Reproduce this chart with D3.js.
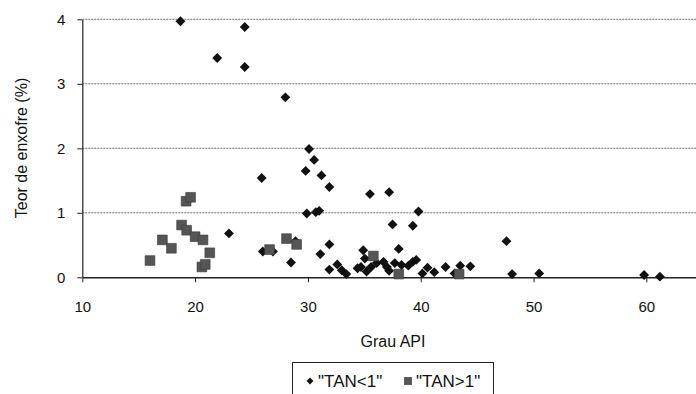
<!DOCTYPE html>
<html>
<head>
<meta charset="utf-8">
<script src="https://cdn.jsdelivr.net/npm/d3@7"></script>
<style>
  body { margin: 0; background: #fff; }
  text { font-family: "Liberation Sans", Arial, sans-serif; fill: #111; }
</style>
</head>
<body>
<div id="chart"></div>
<script>
// "TAN<1" series (diamonds)
var apiLess = [18.7, 21.96, 23.0, 24.4, 24.4, 28.0, 30.1, 30.55, 29.8, 31.2, 31.9, 25.9, 35.5, 37.2,
  29.9, 30.7, 31.0, 39.8, 37.5, 39.3, 26.0, 26.9, 28.5, 28.9, 31.1, 31.9, 31.9, 32.6, 33.0, 33.4,
  34.9, 35.05, 34.7, 34.4, 35.2, 35.6, 36.1, 36.7, 37.0, 37.2, 38.05, 37.7, 38.3, 38.9, 39.3, 39.6,
  40.15, 40.6, 41.2, 42.2, 43.0, 43.5, 44.4, 47.6, 48.1, 50.5, 59.8, 61.2];
var sulfurLess = [3.97, 3.40, 0.68, 3.88, 3.26, 2.79, 1.99, 1.82, 1.65, 1.58, 1.40, 1.54, 1.29, 1.32,
  0.99, 1.01, 1.03, 1.02, 0.82, 0.80, 0.40, 0.40, 0.23, 0.56, 0.36, 0.51, 0.12, 0.20, 0.11, 0.05,
  0.42, 0.29, 0.16, 0.14, 0.09, 0.16, 0.22, 0.24, 0.16, 0.10, 0.44, 0.22, 0.19, 0.18, 0.24, 0.27,
  0.06, 0.15, 0.08, 0.16, 0.06, 0.18, 0.17, 0.56, 0.05, 0.06, 0.035, 0.01];

// "TAN>1" series (squares)
var apiMore = [19.2, 19.6, 18.8, 19.25, 20.0, 20.7, 21.3, 20.6, 20.9, 17.1, 17.9, 16.0, 26.6, 28.1, 29.0, 35.8, 38.05, 43.4];
var sulfurMore = [1.18, 1.24, 0.81, 0.73, 0.63, 0.58, 0.38, 0.16, 0.20, 0.58, 0.45, 0.26, 0.43, 0.60, 0.51, 0.33, 0.05, 0.05];

var xTicks = [10, 20, 30, 40, 50, 60];
var yTicks = [0, 1, 2, 3, 4];
var seriesNames = ['"TAN<1"', '"TAN>1"'];

var width = 696, height = 394;

var svg = d3.select("#chart")
  .append("svg")
  .attr("width", width)
  .attr("height", height);

var x = d3.scaleLinear()
  .domain([10, 64.4])
  .range([82.3, 696]);

var y = d3.scaleLinear()
  .domain([0, 4])
  .range([277.3, 19.3]);

// gridlines
svg.append("g")
  .selectAll("line")
  .data(yTicks.filter(function (d) { return d > 0; }))
  .enter()
  .append("line")
  .attr("x1", x(10))
  .attr("x2", width)
  .attr("y1", function (d) { return y(d); })
  .attr("y2", function (d) { return y(d); })
  .attr("stroke", "#6e6e6e")
  .attr("stroke-width", 1)
  .attr("stroke-dasharray", "2,1");

// Y axis
var yAxis = svg.append("g")
  .attr("transform", "translate(" + x(10) + ",0)")
  .call(d3.axisLeft(y).tickValues(yTicks).tickFormat(d3.format("d")).tickSize(5).tickPadding(12).tickSizeOuter(0));
yAxis.select(".domain").attr("stroke", "#222").attr("stroke-width", 1.2);
yAxis.selectAll(".tick line").attr("stroke", "#222");
yAxis.selectAll("text").style("font-size", "15px");

// X axis
var xAxis = svg.append("g")
  .attr("transform", "translate(0," + y(0) + ")")
  .call(d3.axisBottom(x).tickValues(xTicks).tickFormat(d3.format("d")).tickSize(5).tickPadding(19).tickSizeOuter(0));
xAxis.select(".domain").attr("stroke", "#222").attr("stroke-width", 1.6);
xAxis.selectAll(".tick line").attr("stroke", "#222");
xAxis.selectAll("text").style("font-size", "15px");

// axis titles
svg.append("text")
  .attr("transform", "translate(27,148) rotate(-90)")
  .attr("text-anchor", "middle")
  .style("font-size", "16px")
  .text("Teor de enxofre (%)");

svg.append("text")
  .attr("x", 393)
  .attr("y", 347)
  .attr("text-anchor", "middle")
  .style("font-size", "16px")
  .text("Grau API");

var diamond = d3.symbol().type(d3.symbolDiamond2).size(62);
var square = d3.symbol().type(d3.symbolSquare).size(95);

// diamonds
svg.append("g")
  .selectAll("path")
  .data(d3.range(apiLess.length))
  .enter()
  .append("path")
  .attr("d", diamond)
  .attr("transform", function (i) { return "translate(" + x(apiLess[i]) + "," + y(sulfurLess[i]) + ")"; })
  .style("fill", "#111");

// squares
svg.append("g")
  .selectAll("path")
  .data(d3.range(apiMore.length))
  .enter()
  .append("path")
  .attr("d", square)
  .attr("transform", function (i) { return "translate(" + x(apiMore[i]) + "," + y(sulfurMore[i]) + ")"; })
  .style("fill", "#555")
  .style("stroke", "#3a3a3a")
  .style("stroke-width", 0.6);

// legend
var legend = svg.append("g");
legend.append("rect")
  .attr("x", 292.5)
  .attr("y", 362.5)
  .attr("width", 201)
  .attr("height", 40)
  .attr("fill", "none")
  .attr("stroke", "#222")
  .attr("stroke-width", 1);

legend.append("path")
  .attr("d", d3.symbol().type(d3.symbolDiamond2).size(30))
  .attr("transform", "translate(310,381)")
  .style("fill", "#111");
legend.append("text")
  .attr("x", 318)
  .attr("y", 387)
  .style("font-size", "17px")
  .text(seriesNames[0]);

legend.append("path")
  .attr("d", d3.symbol().type(d3.symbolSquare).size(62))
  .attr("transform", "translate(408,381)")
  .style("fill", "#555");
legend.append("text")
  .attr("x", 416)
  .attr("y", 387)
  .style("font-size", "17px")
  .text(seriesNames[1]);
</script>
</body>
</html>
